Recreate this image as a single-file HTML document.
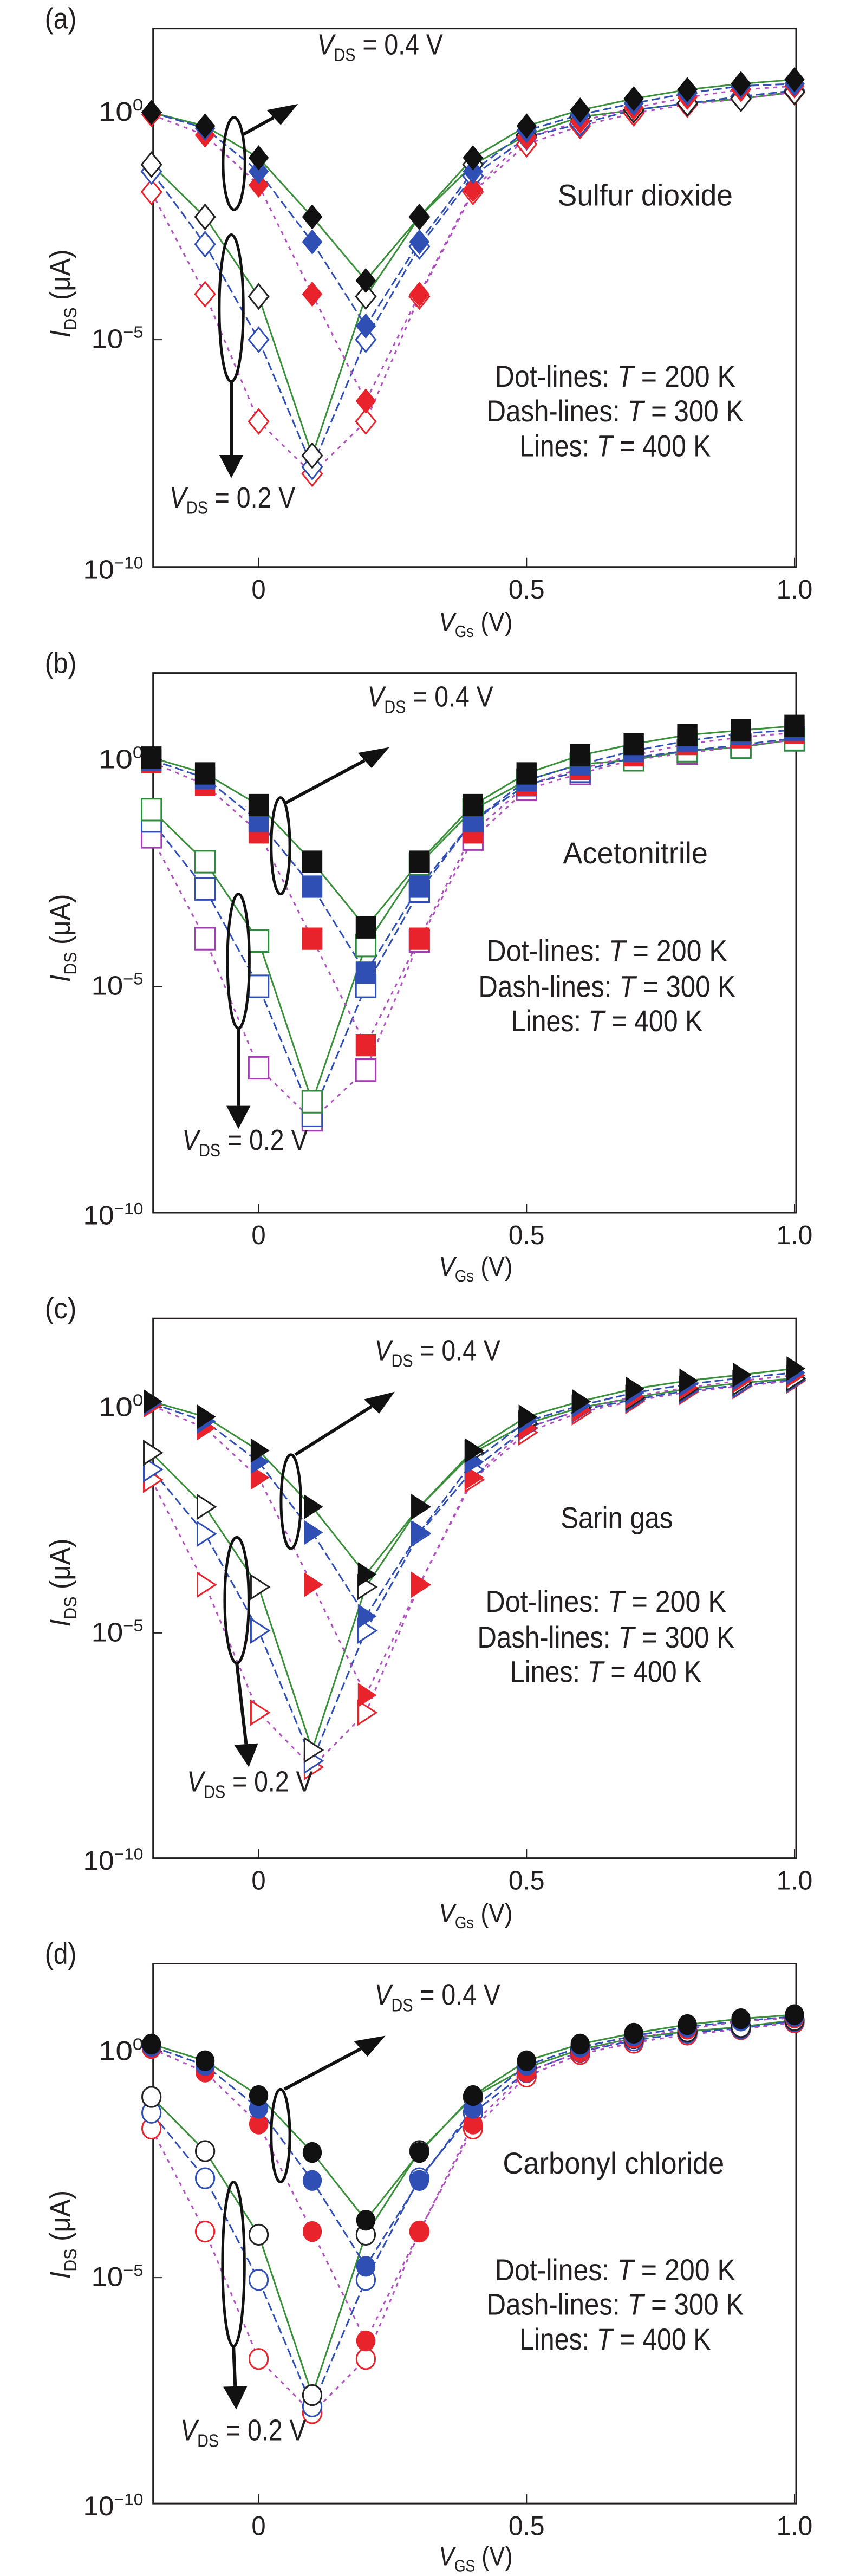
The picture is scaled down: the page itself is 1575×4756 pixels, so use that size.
<!DOCTYPE html>
<html><head><meta charset="utf-8"><style>
html,body{margin:0;padding:0;background:#fff;}
svg{display:block;}
text{font-family:"Liberation Sans Narrow","Liberation Sans",sans-serif;fill:#231f20;}
</style></head><body>
<svg id="fig" xmlns="http://www.w3.org/2000/svg" width="1575" height="4756" viewBox="0 0 1575 4756"></svg>
<script>
const vgs = [-0.2,-0.1,0,0.1,0.2,0.3,0.4,0.5,0.6,0.7,0.8,0.9,1.0];
const tickX = [0,0.5,1.0];
const tickXLabels = ["0","0.5","1.0"];
const tickYExp = [0,-5,-10];
const tickYLabels = ["0","\u22125","\u221210"];
const panelNames = ["Sulfur dioxide","Acetonitrile","Sarin gas","Carbonyl chloride"];
// log10(IDS / uA)
const a_f400 = [0.0,-0.3,-1.0,-2.3,-3.7,-2.3,-1.0,-0.3,0.05,0.3,0.5,0.63,0.72];
const a_f300 = [0.0,-0.35,-1.3,-2.85,-4.7,-2.85,-1.3,-0.4,-0.05,0.2,0.42,0.58,0.63];
const a_f200 = [-0.05,-0.5,-1.6,-4.0,-6.35,-4.0,-1.7,-0.55,-0.2,0.1,0.33,0.5,0.58];
const a_o400 = [-1.15,-2.3,-4.05,-7.55,-4.05,-2.3,-1.15,-0.5,-0.1,0.05,0.2,0.3,0.45];
const a_o300 = [-1.3,-2.9,-5.0,-7.8,-5.0,-2.95,-1.4,-0.55,-0.25,0.05,0.2,0.35,0.48];
const a_o200 = [-1.75,-4.0,-6.8,-7.95,-6.8,-4.05,-1.75,-0.7,-0.3,-0.02,0.17,0.3,0.44];
const b_f400 = [0.05,-0.3,-1.0,-2.25,-3.7,-2.25,-1.0,-0.3,0.1,0.35,0.55,0.65,0.75];
const b_f300 = [0.0,-0.4,-1.35,-2.8,-4.7,-2.8,-1.35,-0.45,-0.1,0.2,0.42,0.58,0.66];
const b_f200 = [-0.05,-0.55,-1.6,-3.95,-6.3,-3.95,-1.6,-0.55,-0.2,0.1,0.35,0.5,0.6];
const b_o400 = [-1.1,-2.25,-4.0,-7.55,-4.1,-2.3,-1.1,-0.45,-0.1,0.0,0.2,0.28,0.45];
const b_o300 = [-1.35,-2.85,-5.0,-7.85,-5.0,-2.9,-1.35,-0.55,-0.25,0.05,0.2,0.33,0.48];
const b_o200 = [-1.7,-3.95,-6.8,-7.95,-6.85,-4.0,-1.75,-0.65,-0.3,0.0,0.15,0.3,0.44];
const c_f400 = [0.14,-0.2,-0.95,-2.2,-3.7,-2.2,-0.95,-0.2,0.14,0.42,0.6,0.73,0.87];
const c_f300 = [0.1,-0.3,-1.2,-2.77,-4.63,-2.77,-1.2,-0.3,0.05,0.33,0.52,0.66,0.78];
const c_f200 = [0.05,-0.45,-1.55,-3.93,-6.38,-3.93,-1.55,-0.45,-0.05,0.25,0.45,0.6,0.72];
const c_o400 = [-1.0,-2.2,-3.98,-7.6,-3.98,-2.2,-1.0,-0.35,0.0,0.22,0.42,0.55,0.65];
const c_o300 = [-1.37,-2.8,-4.95,-7.84,-4.95,-2.8,-1.37,-0.45,-0.05,0.18,0.38,0.5,0.62];
const c_o200 = [-1.6,-3.93,-6.77,-7.98,-6.77,-3.93,-1.6,-0.55,-0.1,0.15,0.35,0.48,0.6];
const d_f400 = [0.17,-0.2,-0.97,-2.23,-3.73,-2.23,-0.97,-0.2,0.17,0.41,0.6,0.73,0.82];
const d_f300 = [0.12,-0.3,-1.25,-2.85,-4.75,-2.85,-1.25,-0.3,0.1,0.35,0.55,0.68,0.78];
const d_f200 = [0.07,-0.45,-1.6,-3.98,-6.4,-3.98,-1.6,-0.45,0.0,0.3,0.5,0.68,0.75];
const d_o400 = [-1.0,-2.2,-4.05,-7.6,-4.05,-2.2,-1.0,-0.35,0.05,0.3,0.45,0.55,0.7];
const d_o300 = [-1.35,-2.8,-5.05,-7.85,-5.05,-2.8,-1.35,-0.45,0.0,0.25,0.42,0.52,0.68];
const d_o200 = [-1.7,-3.98,-6.8,-8.0,-6.8,-3.98,-1.7,-0.55,-0.05,0.2,0.38,0.5,0.65];

const NS = "http://www.w3.org/2000/svg";
const svg = document.getElementById("fig");
const SX = 1575/1560;
const panels = [
 {id:"a",cy:0,sy:1200/1550,top:68,bot:1352,y5:810,open:["#222","#2f4fb5","#e8232b"],shape:"diamond",gs:"Gs",
  lab:68,v4:[580,130],e1:[428,390,20,110],a1:[443,322,545,248],e2:[423,735,22,175],a2:[423,910,423,1140],v2:[310,1210],nm:[1180,490],lg:[1125,922,1005,1088],xl:1505,yl:700,
  data:[a_f400,a_f300,a_f200,a_o400,a_o300,a_o200]},
 {id:"b",cy:1190,sy:1200/1550,top:68,bot:1355,y5:815,open:["#2e8b3e","#2f4fb5","#a040b0"],shape:"square",gs:"Gs",
  lab:68,v4:[672,148],e1:[513,480,17,115],a1:[522,378,712,245],e2:[436,755,20,160],a2:[436,915,436,1155],v2:[333,1205],nm:[1162,522],lg:[1110,755,840,922],xl:1505,yl:700,
  data:[b_f400,b_f300,b_f200,b_o400,b_o300,b_o200]},
 {id:"c",cy:2380,sy:1200/1550,top:70,bot:1357,y5:820,open:["#222","#2f4fb5","#e8232b"],shape:"triangle",gs:"Gs",
  lab:70,v4:[685,170],e1:[532,507,18,112],a1:[540,395,722,245],e2:[433,742,22,150],a2:[433,892,455,1140],v2:[342,1198],nm:[1128,570],lg:[1108,770,855,937],xl:1510,yl:700,
  data:[c_f400,c_f300,c_f200,c_o400,c_o300,c_o200]},
 {id:"d",cy:3550,sy:1206/1550,top:97,bot:1378,y5:842,open:["#222","#2f4fb5","#e8232b"],shape:"circle",gs:"GS",
  lab:97,v4:[685,195],e1:[513,505,17,110],a1:[520,395,705,268],e2:[427,810,20,195],a2:[427,1005,432,1155],v2:[330,1228],nm:[1122,595],lg:[1125,848,930,1013],xl:1525,yl:740,
  data:[d_f400,d_f300,d_f200,d_o400,d_o300,d_o200]}
];
const lineColors = ["#3a8f3a","#2f4fb5","#b050c0"];
const lineDash = ["none","16 7","7 9"];
const fillColors = ["#111","#2f4fb5","#e8232b"];

function mk(tag,parent){const e=document.createElementNS(NS,tag);parent.appendChild(e);return e;}
function txt(parent,x,y,parts,size,len,anchor){
  const t=mk("text",parent);
  t.setAttribute("x",x);t.setAttribute("y",y);t.setAttribute("font-size",size);
  if(anchor)t.setAttribute("text-anchor",anchor);
  if(len){t.setAttribute("textLength",len);t.setAttribute("lengthAdjust","spacingAndGlyphs");}
  parts.forEach(p=>{const s=mk("tspan",t);s.textContent=p[0];
    if(p[1]==="i")s.setAttribute("font-style","italic");
    if(p[1]==="sub"){s.setAttribute("font-size",size*0.62);s.setAttribute("dy",size*0.22);}
    if(p[1]==="back"){s.setAttribute("dy",-size*0.22);}
    if(p[1]==="sup"){s.setAttribute("font-size",size*0.62);s.setAttribute("dy",-size*0.38);}
  });
  return t;
}
function marker(g,shape,x,y,filled,color){
  let m;
  if(shape==="diamond"){m=mk("polygon",g);m.setAttribute("points",`${x},${y-29} ${x+18},${y} ${x},${y+29} ${x-18},${y}`);}
  else if(shape==="square"){m=mk("rect",g);m.setAttribute("x",x-18);m.setAttribute("y",y-26);m.setAttribute("width",36);m.setAttribute("height",52);}
  else if(shape==="triangle"){m=mk("polygon",g);m.setAttribute("points",`${x-14},${y-28} ${x+19},${y} ${x-14},${y+28}`);}
  else {m=mk("ellipse",g);m.setAttribute("cx",x);m.setAttribute("cy",y);m.setAttribute("rx",17);m.setAttribute("ry",24);}
  m.setAttribute("fill",filled?color:"#fff");
  m.setAttribute("stroke",color);m.setAttribute("stroke-width",filled?1:3);
  m.setAttribute("vector-effect","non-scaling-stroke");
  return m;
}
function arrow(g,x1,y1,x2,y2,name){
  const l=mk("line",g);
  
  
  const dx=x2-x1,dy=y2-y1,L=Math.hypot(dx,dy),ux=dx/L,uy=dy/L;
  const bx=x2-ux*55,by=y2-uy*55;
  l.setAttribute("x1",x1);l.setAttribute("y1",y1);l.setAttribute("x2",bx);l.setAttribute("y2",by);
  l.setAttribute("stroke","#111");l.setAttribute("stroke-width",6);l.setAttribute("vector-effect","non-scaling-stroke");
  const h=mk("polygon",g);
  
  
  h.setAttribute("points",`${x2},${y2} ${bx-uy*22},${by+ux*22} ${bx+uy*22},${by-ux*22}`);
  h.setAttribute("fill","#111");
}
panels.forEach((P,pi)=>{
  const g=mk("g",svg);
  
  
  g.setAttribute("transform",`translate(0,${P.cy}) scale(${SX},${P.sy})`);
  const dec=(P.bot-P.y5)/5;
  const X=v=>473+v*980;
  const Y=e=>P.bot-(e+10)*dec;
  const frame=mk("rect",g);
  
  
  frame.setAttribute("x",280);frame.setAttribute("y",P.top);frame.setAttribute("width",1176);frame.setAttribute("height",P.bot-P.top);
  frame.setAttribute("fill","none");frame.setAttribute("stroke","#231f20");frame.setAttribute("stroke-width",3);frame.setAttribute("vector-effect","non-scaling-stroke");
  tickX.forEach((v,i)=>{
    const t=mk("line",g);
    
    
    t.setAttribute("x1",X(v));t.setAttribute("x2",X(v));t.setAttribute("y1",P.bot);t.setAttribute("y2",P.bot-22);
    t.setAttribute("stroke","#231f20");t.setAttribute("stroke-width",2);t.setAttribute("vector-effect","non-scaling-stroke");
    const lb=txt(g,X(v),P.bot+75,[[tickXLabels[i]]],64,tickXLabels[i].length>1?66:26,"middle");
    
    
  });
  tickYExp.forEach((e,i)=>{
    const t=mk("line",g);
    
    
    t.setAttribute("x1",280);t.setAttribute("x2",297);t.setAttribute("y1",Y(e));t.setAttribute("y2",Y(e));
    t.setAttribute("stroke","#231f20");t.setAttribute("stroke-width",2);t.setAttribute("vector-effect","non-scaling-stroke");
    const w=[82,95,110][i];
    const lb=txt(g,262-w,Y(e)+[20,20,28][i],[["10"],[tickYLabels[i],"sup"]],64,w,null);
    
    
  });
  const order=[2,1,0];
  // lines
  [[0,3],[1,4],[2,5]].forEach(([fi,oi],k)=>{
    [fi,oi].forEach(si=>{
      const pl=mk("polyline",g);
      
      
      pl.setAttribute("points",vgs.map((v,j)=>X(v)+","+Y(P.data[si][j])).join(" "));
      pl.setAttribute("fill","none");pl.setAttribute("stroke",lineColors[k]);pl.setAttribute("stroke-width",3);
      if(lineDash[k]!=="none")pl.setAttribute("stroke-dasharray",lineDash[k]);
      pl.setAttribute("vector-effect","non-scaling-stroke");
    });
  });
  // open markers then filled
  order.forEach(k=>{
    vgs.forEach((v,j)=>{
      const m=marker(g,P.shape,X(v),Y(P.data[3+k][j]),false,P.open[k]);
      
      
    });
  });
  order.forEach(k=>{
    vgs.forEach((v,j)=>{
      const m=marker(g,P.shape,X(v),Y(P.data[k][j]),true,fillColors[k]);
      
      
    });
  });
  // annotations
  [P.e1,P.e2].forEach((e,i)=>{
    const el=mk("ellipse",g);
    
    
    el.setAttribute("cx",e[0]);el.setAttribute("cy",e[1]);el.setAttribute("rx",e[2]);el.setAttribute("ry",e[3]);
    el.setAttribute("fill","none");el.setAttribute("stroke","#111");el.setAttribute("stroke-width",5);el.setAttribute("vector-effect","non-scaling-stroke");
  });
  arrow(g,P.a1[0],P.a1[1],P.a1[2],P.a1[3],"vds04-arrow");
  arrow(g,P.a2[0],P.a2[1],P.a2[2],P.a2[3],"vds02-arrow");
  let t;
  t=txt(g,P.lab===97?82:82,P.lab,[["("+P.id+")"]],70,58,null);
  
  
  t=txt(g,P.v4[0],P.v4[1],[["V","i"],["DS","sub"],[" = 0.4 V","back"]],70,230,null);
  
  
  t=txt(g,P.v2[0],P.v2[1],[["V","i"],["DS","sub"],[" = 0.2 V","back"]],70,230,null);
  
  
  const nmLen=[320,265,205,405][pi];
  t=txt(g,P.nm[0],P.nm[1],[[panelNames[pi]]],72,nmLen,"middle");
  
  
  t=txt(g,P.lg[0],P.lg[1],[["Dot-lines: "],["T","i"],[" = 200 K"]],72,440,"middle");
  
  
  t=txt(g,P.lg[0],P.lg[2],[["Dash-lines: "],["T","i"],[" = 300 K"]],72,470,"middle");
  
  
  t=txt(g,P.lg[0],P.lg[3],[["Lines: "],["T","i"],[" = 400 K"]],72,350,"middle");
  
  
  t=txt(g,870,P.xl,[["V","i"],[P.gs,"sub"],[" (V)","back"]],64,135,"middle");
  
  
  const yg=mk("g",g);
  
  
  yg.setAttribute("transform",`translate(128,${P.yl}) rotate(-90)`);
  t=txt(yg,0,0,[["I","i"],["DS","sub"],[" (\u03bcA)","back"]],52,210,"middle");
  
  
});
</script>
</body></html>
